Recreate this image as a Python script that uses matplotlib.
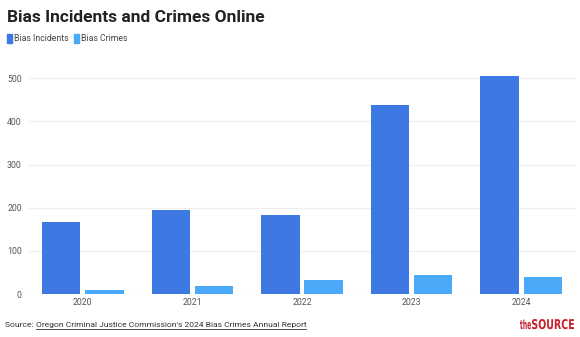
import matplotlib
matplotlib.use("Agg")
import matplotlib.pyplot as plt
import numpy as np
from matplotlib.patches import Rectangle, PathPatch
from matplotlib.textpath import TextPath
from matplotlib.font_manager import FontProperties
from matplotlib.transforms import Affine2D, IdentityTransform

years = ["2020", "2021", "2022", "2023", "2024"]
incidents = [168, 194, 183, 437, 505]
crimes = [10, 19, 33, 43, 40]
y_ticks = [0, 100, 200, 300, 400, 500]

c_inc = "#3d78e3"
c_cri = "#4aa9f8"

plt.rcParams['font.family'] = ['Roboto', 'DejaVu Sans']

fig = plt.figure(figsize=(5.8, 3.37), dpi=100)
W, H = 580, 337
# plot area in pixels: left 28, right 576, top 61, bottom 294
ax = fig.add_axes([28 / W, 1 - 294 / H, (576 - 28) / W, (294 - 61) / H])

x = np.arange(len(years))
bw = 0.35
gap = 0.045
ax.bar(x - gap / 2 - bw / 2, incidents, bw, color=c_inc, zorder=2)
ax.bar(x + gap / 2 + bw / 2, crimes, bw, color=c_cri, zorder=2)

ax.set_xlim(-0.5, len(years) - 0.5)
ax.set_ylim(0, 540)
ax.set_yticks(y_ticks)
ax.set_xticks(x)
ax.set_xticklabels(years)
ax.grid(axis='y', color='#efefef', linewidth=0.8, zorder=0)
for s in ax.spines.values():
    s.set_visible(False)
ax.tick_params(axis='both', length=0, labelsize=6.3, labelcolor='#555555')
ax.tick_params(axis='y', pad=4.5)
ax.tick_params(axis='x', pad=3)

# title
fig.text(7 / W, 1 - 17 / H, "Bias Incidents and Crimes Online", fontsize=12.5,
         fontweight='bold', color='#222222', va='center', ha='left')

# legend
legend_items = [("Bias Incidents", c_inc), ("Bias Crimes", c_cri)]
lx = 7
for name, col in legend_items:
    fig.patches.append(Rectangle((lx / W, 1 - 43 / H), 5 / W, 9 / H,
                                 transform=fig.transFigure, color=col))
    t = fig.text((lx + 7) / W, 1 - 38.5 / H, name, fontsize=6.3, color='#444444',
                 va='center', ha='left')
    fig.canvas.draw()
    bb = t.get_window_extent()
    lx = bb.x1 + 5

# source line
r = fig.canvas.get_renderer()
t1 = fig.text(5 / W, 1 - 325 / H, "Source: ", fontsize=6.1, color='#333333',
              va='center', ha='left')
fig.canvas.draw()
b1 = t1.get_window_extent(r)
t2 = fig.text(b1.x1 / W, 1 - 325 / H,
              "Oregon Criminal Justice Commission's 2024 Bias Crimes Annual Report",
              fontsize=6.1, color='#333333', va='center', ha='left')
fig.canvas.draw()
b2 = t2.get_window_extent(r)
fig.add_artist(plt.Line2D([b2.x0 / W, b2.x1 / W], [(b2.y0 - 0.5) / H] * 2,
                          transform=fig.transFigure, color='#333333', linewidth=0.6))

# logo: condensed bold text drawn as paths, fitted into pixel boxes
fp = FontProperties(family='DejaVu Sans', weight='bold')
def logo_part(s, x0, x1, top):
    tp = TextPath((0, 0), s, size=10, prop=fp)
    ext = tp.get_extents()
    sx = (x1 - x0) / ext.width
    sy = (top - 0) / ext.y1
    tr = Affine2D().translate(-ext.x0, 0).scale(sx, sy).translate(x0, H - 329)
    fig.patches.append(PathPatch(tr.transform_path(tp), transform=IdentityTransform(),
                                 color='#c8202f', lw=0))

logo_part("the", 520, 531, 9.5)
logo_part("SOURCE", 532, 574, 10)

fig.savefig("out.png", dpi=100)
